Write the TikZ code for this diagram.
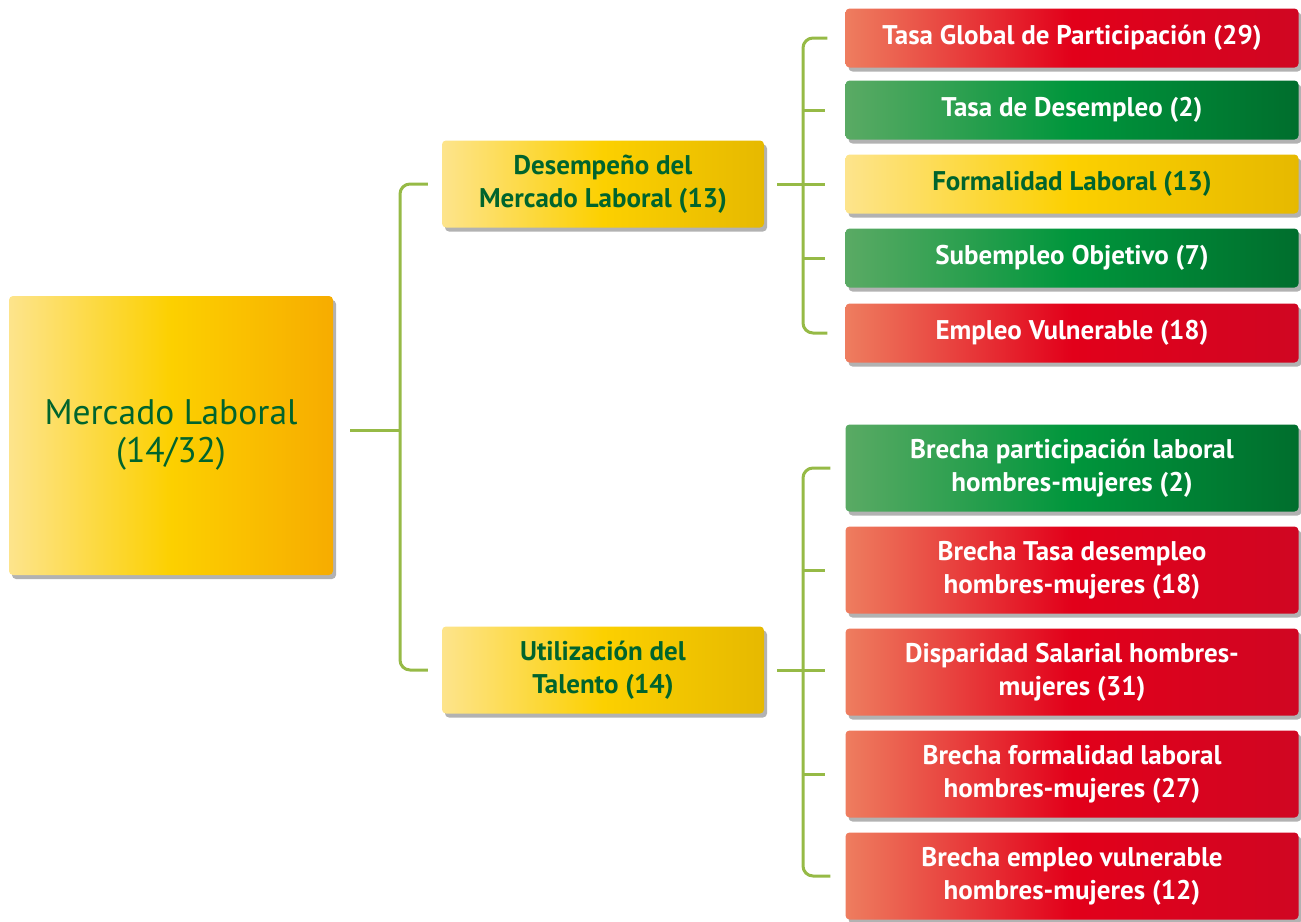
\documentclass[tikz,border=0pt]{standalone}
\usepackage{fontspec}
\setmainfont{PT Sans}
\usetikzlibrary{shadows}
\definecolor{rl}{RGB}{238,125,95}
\definecolor{rm}{RGB}{226,0,26}
\definecolor{rr}{RGB}{208,6,34}
\definecolor{gl}{RGB}{90,170,100}
\definecolor{gm}{RGB}{0,150,60}
\definecolor{gr}{RGB}{0,110,45}
\definecolor{yl}{RGB}{253,228,140}
\definecolor{ym}{RGB}{252,208,0}
\definecolor{yr}{RGB}{230,185,0}
\definecolor{ymr}{RGB}{247,172,0}
\definecolor{txg}{RGB}{0,100,45}
\definecolor{lineg}{RGB}{150,186,70}
\tikzset{
  box/.style={rounded corners=4pt, inner sep=0pt, align=center,
    drop shadow={shadow xshift=3pt,shadow yshift=-4pt,opacity=0.3,fill=black},
    font=\bfseries\fontsize{27}{33}\selectfont},
  redbox/.style={box, left color=rl, right color=rr, middle color=rm, text=white},
  greenbox/.style={box, left color=gl, right color=gr, middle color=gm, text=white},
  yelbox/.style={box, left color=yl, right color=yr, middle color=ym, text=txg},
  rbox/.style={minimum width=453pt, minimum height=59pt},
  rbox2/.style={minimum width=453pt, minimum height=87pt},
  midbox/.style={minimum width=322pt, minimum height=87pt},
  conn/.style={draw=lineg, line width=3pt},
}
\begin{document}
\begin{tikzpicture}[x=1pt,y=-1pt]
\useasboundingbox (0,0) rectangle (1301,921);
% main
\node[box, left color=yl, right color=ymr, middle color=ym, text=txg,
  minimum width=324pt, minimum height=279pt, font=\fontsize{35.5}{38}\selectfont]
  (main) at (171,435.5) {Mercado Laboral\\(14/32)\\[-29pt]};
% middle
\node[yelbox, midbox] (desem) at (603,184) {Desempeño del\\Mercado Laboral (13)};
\node[yelbox, midbox] (util) at (603,670) {Utilización del\\Talento (14)};
% right upper
\node[redbox, rbox] (tgp) at (1072,38) {Tasa Global de Participación (29)};
\node[greenbox, rbox] (tdes) at (1072,110) {Tasa de Desempleo (2)};
\node[yelbox, rbox] (form) at (1072,184) {Formalidad Laboral (13)};
\node[greenbox, rbox] (sub) at (1072,258) {Subempleo Objetivo (7)};
\node[redbox, rbox] (ev) at (1072,333) {Empleo Vulnerable (18)};
% right lower
\node[greenbox, rbox2] (bpl) at (1072,468) {Brecha participación laboral\\hombres-mujeres (2)};
\node[redbox, rbox2] (btd) at (1072,570) {Brecha Tasa desempleo\\hombres-mujeres (18)};
\node[redbox, rbox2] (dsh) at (1072,672) {Disparidad Salarial hombres-\\mujeres (31)};
\node[redbox, rbox2] (bfl) at (1072,774) {Brecha formalidad laboral\\hombres-mujeres (27)};
\node[redbox, rbox2] (bev) at (1072,876) {Brecha empleo vulnerable\\hombres-mujeres (12)};
% connectors
\coordinate (b0) at (400,430);
\coordinate (s1) at (803,184);
\coordinate (s2) at (803,672);
\draw[conn, shorten <=17pt] (main.east |- b0) -- (b0);
\draw[conn, rounded corners=10pt, shorten <=14pt, shorten >=14pt] (desem.west) -| (b0) |- (util.west);
\draw[conn, rounded corners=10pt, shorten <=18pt, shorten >=18pt] (tgp.west) -| (s1) |- (ev.west);
\draw[conn, shorten <=13pt, shorten >=20pt] (desem.east) -- (form.west);
\draw[conn, shorten >=20pt] (s1 |- tdes.west) -- (tdes.west);
\draw[conn, shorten >=20pt] (s1 |- sub.west) -- (sub.west);
\draw[conn, rounded corners=10pt, shorten <=15pt, shorten >=15pt] (bpl.west) -| (s2) |- (bev.west);
\draw[conn, shorten <=13pt, shorten >=20pt] (util.east) -- (util.east -| dsh.west);
\draw[conn, shorten >=20pt] (s2 |- btd.west) -- (btd.west);
\draw[conn, shorten >=20pt] (s2 |- bfl.west) -- (bfl.west);
\end{tikzpicture}
\end{document}
